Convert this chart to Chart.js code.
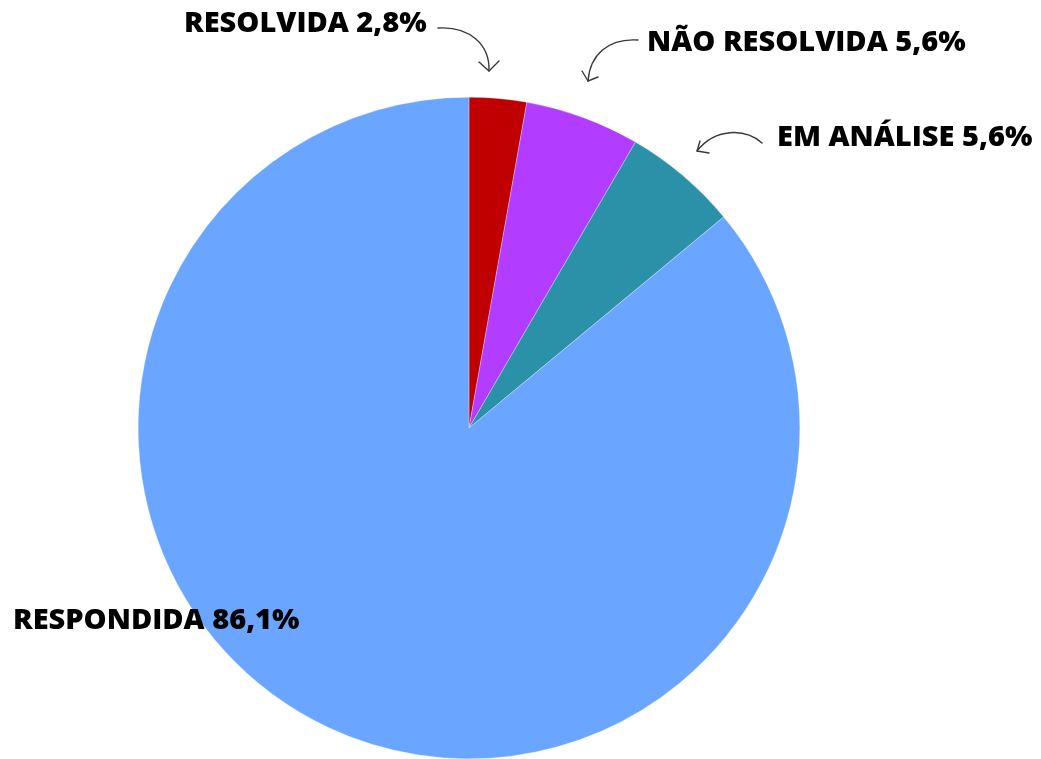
<!DOCTYPE html>
<html>
<head>
<meta charset="utf-8">
<script src="https://cdn.jsdelivr.net/npm/chart.js@4/dist/chart.umd.min.js"></script>
<style>
  html, body { margin: 0; padding: 0; background: #fff; }
  canvas { display: block; }
</style>
</head>
<body>
<canvas id="pie" width="1041" height="759"></canvas>
<script>
  const labels = ["RESOLVIDA", "NÃO RESOLVIDA", "EM ANÁLISE", "RESPONDIDA"]
  const values = [2.8, 5.6, 5.6, 86.1]
  const colors = ["#c00000", "#b23cff", "#2b91a8", "#6aa6ff"]

  // where each callout text sits (left x, middle y)
  const labelPos = [
    { x: 184, y: 24 },
    { x: 647, y: 43 },
    { x: 777, y: 138 },
    { x: 13, y: 621 },
  ]

  // hand drawn arrows: start, two control points, tip, and the two wings
  const arrows = [
    { p: [438, 28, 470, 26, 490, 45, 489, 71], w: [[479, 62], [499, 61]] },
    { p: [638, 40, 608, 38, 590, 55, 588, 81], w: [[582, 71], [598, 77]] },
    { p: [762, 143, 745, 128, 715, 128, 697, 151], w: [[700, 141], [709, 153]] },
  ]

  const fmt = (v) => v.toFixed(1).replace(".", ",") + "%"

  const calloutPlugin = {
    id: "callouts",
    afterDraw(chart) {
      const ctx = chart.ctx
      ctx.save()
      ctx.font = "800 29px 'Open Sans'"
      ctx.fillStyle = "#000"
      ctx.textAlign = "left"
      ctx.textBaseline = "middle"
      labels.forEach((name, i) => {
        ctx.fillText(name + " " + fmt(values[i]), labelPos[i].x, labelPos[i].y)
      })

      ctx.strokeStyle = "#3a3a3a"
      ctx.lineWidth = 1.4
      ctx.lineCap = "round"
      ctx.lineJoin = "round"
      arrows.forEach((a) => {
        const p = a.p
        ctx.beginPath()
        ctx.moveTo(p[0], p[1])
        ctx.bezierCurveTo(p[2], p[3], p[4], p[5], p[6], p[7])
        ctx.stroke()
        ctx.beginPath()
        ctx.moveTo(a.w[0][0], a.w[0][1])
        ctx.lineTo(p[6], p[7])
        ctx.lineTo(a.w[1][0], a.w[1][1])
        ctx.stroke()
      })
      ctx.restore()
    },
  }

  new Chart(document.getElementById("pie").getContext("2d"), {
    type: "pie",
    data: {
      labels: labels,
      datasets: [
        {
          data: values,
          backgroundColor: colors,
          borderColor: "#ffffff",
          borderWidth: 0.3,
        },
      ],
    },
    options: {
      responsive: false,
      animation: false,
      layout: {
        padding: { top: 97, bottom: -2, left: 137, right: 240 },
      },
      plugins: {
        legend: { display: false },
        tooltip: { enabled: false },
      },
    },
    plugins: [calloutPlugin],
  })
</script>
</body>
</html>
